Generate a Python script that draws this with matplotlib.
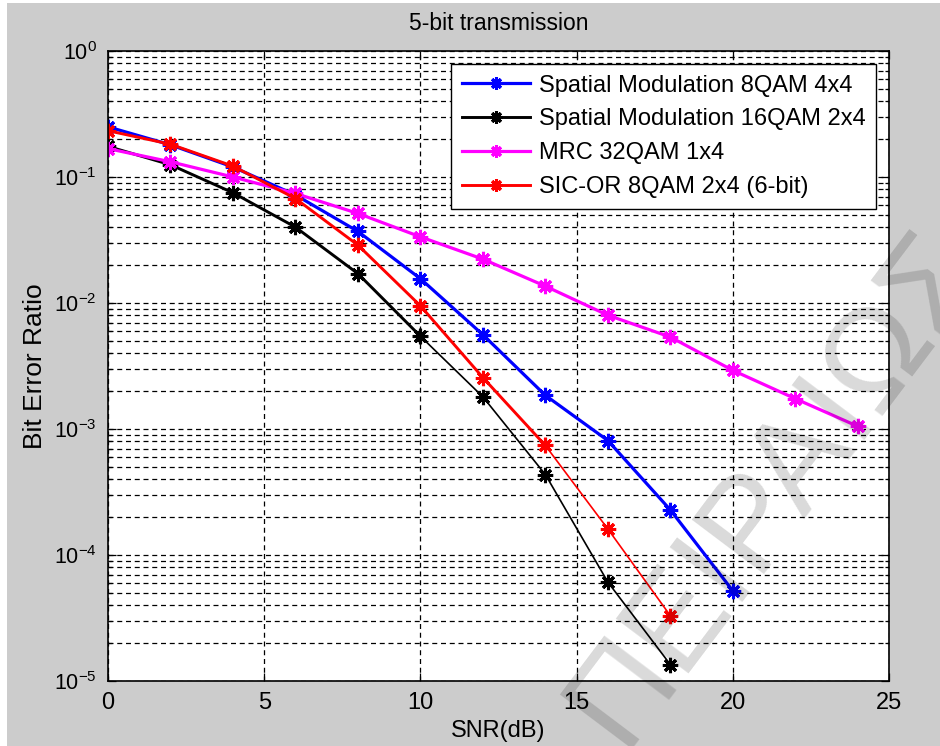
import matplotlib.pyplot as plt
from matplotlib.patches import Rectangle
from matplotlib.ticker import LogLocator, NullFormatter, FixedLocator

# SNR (dB) and bit error ratio for each scheme
snr_sm8 = [0, 2, 4, 6, 8, 10, 12, 14, 16, 18, 20]
ber_sm8 = [0.25, 0.18, 0.12, 0.072, 0.037, 0.0156, 0.0056, 0.00185, 0.00081, 0.000228, 5.2e-5]

snr_sm16 = [0, 2, 4, 6, 8, 10, 12, 14, 16, 18]
ber_sm16 = [0.175, 0.125, 0.075, 0.040, 0.0171, 0.00545, 0.0018, 0.000435, 6.1e-5, 1.35e-5]

snr_mrc = [0, 2, 4, 6, 8, 10, 12, 14, 16, 18, 20, 22, 24]
ber_mrc = [0.168, 0.132, 0.100, 0.074, 0.0514, 0.0335, 0.0223, 0.0136, 0.0080, 0.00537,
           0.00292, 0.00174, 0.00105]

snr_sic = [0, 2, 4, 6, 8, 10, 12, 14, 16, 18]
ber_sic = [0.233, 0.182, 0.122, 0.0675, 0.0288, 0.0095, 0.00256, 0.00074, 0.000161, 3.3e-5]

labels = ['Spatial Modulation 8QAM 4x4', 'Spatial Modulation 16QAM 2x4',
          'MRC 32QAM 1x4', 'SIC-OR 8QAM 2x4 (6-bit)']

plt.rcParams['font.family'] = ['Liberation Sans', 'DejaVu Sans']
plt.rcParams['mathtext.fontset'] = 'custom'
plt.rcParams['mathtext.rm'] = 'Liberation Sans'

fig = plt.figure(figsize=(9.4, 7.46), dpi=100, facecolor='#cccccc')
W, H = 940, 746
ax = fig.add_axes([108 / W, 1 - 681 / H, (889 - 108) / W, (681 - 51) / H])
ax.set_facecolor('white')

mk = dict(marker=(8, 2, 0), markersize=11, markeredgewidth=2.2)

ax.plot(snr_sm8, ber_sm8, color='#0000ff', lw=2.3, label=labels[0], **mk)
ax.plot(snr_sm16[:6], ber_sm16[:6], color='black', lw=2.1, label=labels[1], **mk)
ax.plot(snr_sm16[5:], ber_sm16[5:], color='black', lw=1.2, **mk)
ax.plot(snr_mrc, ber_mrc, color='#ff00ff', lw=2.3, label=labels[2], **mk)
ax.plot(snr_sic[:8], ber_sic[:8], color='#ff0000', lw=2.1, label=labels[3], **mk)
ax.plot(snr_sic[7:], ber_sic[7:], color='#ff0000', lw=1.2, **mk)

ax.set_yscale('log')
ax.set_xlim(0, 25)
ax.set_ylim(1e-5, 1)
ax.xaxis.set_major_locator(FixedLocator([0, 5, 10, 15, 20, 25]))
ax.yaxis.set_major_locator(LogLocator(base=10, numticks=10))
ax.yaxis.set_minor_locator(LogLocator(base=10, subs=range(2, 10), numticks=10))
ax.yaxis.set_minor_formatter(NullFormatter())

ax.grid(True, which='major', axis='both', color='black', linestyle=(0, (4, 3)), lw=0.9)
ax.grid(True, which='minor', axis='y', color='black', linestyle=(0, (4, 3)), lw=0.9)
ax.tick_params(which='both', direction='in', top=True, right=True, width=0.9)
ax.tick_params(axis='x', labelsize=17)
ax.tick_params(axis='y', labelsize=15.5)
ax.tick_params(which='major', length=6, pad=8)
ax.tick_params(which='minor', length=3)
for s in ax.spines.values():
    s.set_linewidth(1.2)

ax.set_title('5-bit transmission', fontsize=16.5, pad=15)
ax.set_xlabel('SNR(dB)', fontsize=17, labelpad=4)
ax.set_ylabel('Bit Error Ratio', fontsize=19, labelpad=5)

leg = ax.legend(loc='upper right', prop={'size': 17},
                fancybox=False, edgecolor='black', framealpha=1, borderaxespad=0.55,
                handlelength=2.9, handletextpad=0.35, labelspacing=0.5, markerscale=0.8,
                borderpad=0.45)
leg.get_frame().set_linewidth(1.0)

# watermark
fig.text(775 / W, 1 - 487 / H, 'ΠΕΙΡΑΙΩΣ', rotation=53, fontsize=95, color='black',
         alpha=0.15, ha='center', va='center', rotation_mode='anchor',
         family=['Liberation Sans', 'DejaVu Sans'])

# white screenshot edges
fig.patches.append(Rectangle((0, 0), 7 / W, 1, transform=fig.transFigure,
                             facecolor='white', edgecolor='none'))
fig.patches.append(Rectangle((0, 1 - 3 / H), 1, 3 / H, transform=fig.transFigure,
                             facecolor='white', edgecolor='none'))

fig.savefig('out.png', dpi=100, facecolor=fig.get_facecolor())
